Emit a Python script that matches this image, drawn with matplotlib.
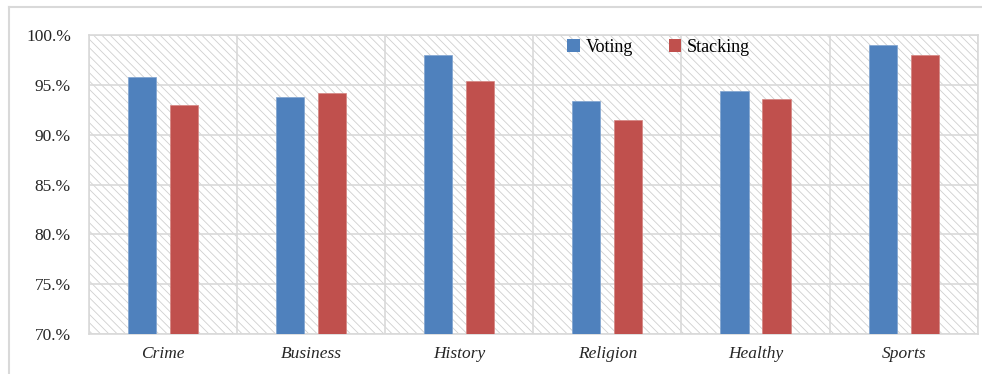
import numpy as np
import matplotlib.pyplot as plt
from matplotlib.patches import Patch, Rectangle
from matplotlib.lines import Line2D

categories = ['Crime', 'Business', 'History', 'Religion', 'Healthy', 'Sports']
voting = [95.8, 93.8, 98.0, 93.4, 94.4, 99.0]
stacking = [93.0, 94.2, 95.4, 91.5, 93.6, 98.0]
yticks = [70, 75, 80, 85, 90, 95, 100]
ytick_labels = ['70.%', '75.%', '80.%', '85.%', '90.%', '95.%', '100.%']

plt.rcParams['font.family'] = 'Liberation Serif'
plt.rcParams['hatch.linewidth'] = 0.6

fig = plt.figure(figsize=(9.82, 3.74), dpi=100)
ax = fig.add_axes([0.0906, 0.107, 0.905, 0.799])

x = np.arange(len(categories))
grid_col = '#d9d9d9'

# hatched background of the plot area
ax.add_patch(Rectangle((0, 0), 1, 1, transform=ax.transAxes, facecolor='white',
                       edgecolor='#cfcfcf', hatch='\\\\\\\\', lw=0, zorder=0))

ax.bar(x - 0.142, voting, width=0.19, color='#4f81bd', zorder=3,
       edgecolor='#7fa3d0', linewidth=0.5)
ax.bar(x + 0.142, stacking, width=0.19, color='#c0504d', zorder=3,
       edgecolor='#d48481', linewidth=0.5)

ax.set_xlim(-0.5, len(categories) - 0.5)
ax.set_ylim(70, 100)
ax.set_yticks(yticks)
ax.set_yticklabels(ytick_labels, fontsize=12.5, color='#262626')
ax.set_xticks(x)
ax.set_xticklabels(categories, fontsize=12.5, style='italic', color='#262626')
ax.tick_params(axis='both', length=0)
ax.tick_params(axis='y', pad=13)
ax.tick_params(axis='x', pad=9)

for yv in yticks:
    ax.axhline(yv, color=grid_col, lw=1.2, zorder=1)
for xv in np.arange(-0.5, len(categories), 1.0):
    ax.axvline(xv, color=grid_col, lw=1.2, zorder=1)
for s in ax.spines.values():
    s.set_color(grid_col)
    s.set_linewidth(1.2)

handles = [Patch(facecolor='#4f81bd', label='Voting'),
           Patch(facecolor='#c0504d', label='Stacking')]
ax.legend(handles=handles, loc='center', bbox_to_anchor=(0.641, 0.96), ncol=2,
          frameon=False, fontsize=13, handlelength=0.7, handleheight=0.7,
          handletextpad=0.3, columnspacing=2.0)

# outer chart frame (top and left edges)
fig.add_artist(Line2D([0.009, 1.0], [0.981, 0.981], color='#d9d9d9', lw=1.5))
fig.add_artist(Line2D([0.009, 0.009], [0.0, 0.981], color='#d9d9d9', lw=1.5))

plt.savefig('out.png', dpi=100)
